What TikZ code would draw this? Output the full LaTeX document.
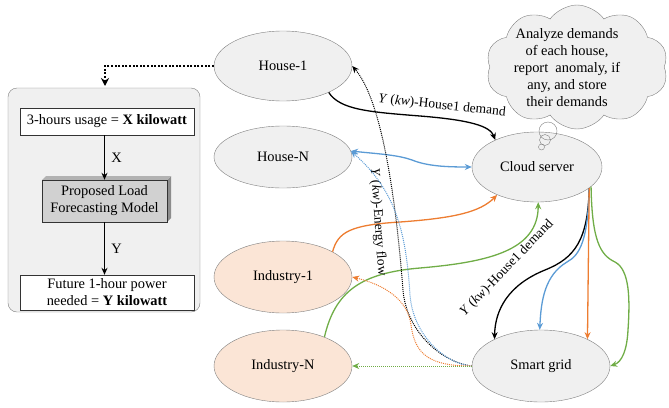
\documentclass[tikz,border=0pt]{standalone}
\usepackage{fontspec}
\setmainfont{Liberation Serif}
\usetikzlibrary{arrows.meta,shapes.geometric,shapes.symbols}
\definecolor{cblue}{HTML}{5B9BD5}
\definecolor{corange}{HTML}{ED7D31}
\definecolor{cgreen}{HTML}{70AD47}
\definecolor{ellfill}{HTML}{F0F0F0}
\definecolor{indfill}{HTML}{FBE5D6}
\definecolor{edge}{HTML}{7F7F7F}
\begin{document}
\begin{tikzpicture}[x=1pt,y=-1pt,font=\fontsize{14.4}{17}\selectfont,
  ell/.style={ellipse,draw=edge,fill=ellfill,inner sep=0pt,minimum width=138pt,minimum height=72pt},
  ind/.style={ell,fill=indfill},
  pbox/.style={draw=black!80,fill=white,inner sep=0pt,minimum width=174pt,align=center},
  tip/.style={-{Stealth[length=7pt,width=6pt]}},
  btip/.style={{Stealth[length=7pt,width=6pt]}-{Stealth[length=7pt,width=6pt]}},
  conn/.style={line width=1.3pt,tip},
  dconn/.style={line width=1pt,dash pattern=on 1pt off 1pt,tip},
  lab/.style={font=\fontsize{13.5}{16}\selectfont,inner sep=1pt}]
\useasboundingbox (0,0) rectangle (669,407);

% left panel
\node[draw=edge,fill=ellfill,rounded corners=9pt,minimum width=192pt,minimum height=224pt] (panel) at (104,200) {};
\node[pbox,minimum height=27pt] (b1) at (107,121.5) {3-hours usage = \textbf{X kilowatt}};
\fill[black!45] (167,180) -- (171,176) -- (171,218) -- (167,222) -- cycle;
\fill[black!30] (42,180) -- (46,176) -- (171,176) -- (167,180) -- cycle;
\node[draw=black!80,fill=black!18,minimum width=125pt,minimum height=42pt,inner sep=0pt,align=center] (pm) at (104.5,201) {Proposed Load\\Forecasting Model};
\node[pbox,minimum height=35pt] (b3) at (107,292.5) {Future 1-hour power\\needed = \textbf{Y kilowatt}};
\draw[conn] (b1.south -| pm.north) -- node[right=3pt] {X} (pm.north);
\draw[conn] (pm.south) -- node[right=3pt] {Y} (b3.north -| pm.south);

% ellipses
\node[ell,minimum height=70pt] (h1) at (283,66) {House-1};
\node[ell,minimum height=62pt] (hN) at (283,157) {House-N};
\node[ind] (i1) at (283,277) {Industry-1};
\node[ind] (iN) at (283,366) {Industry-N};
\node[ell,minimum width=130pt,minimum height=70pt] (cs) at (537,167) {Cloud server};
\node[ell] (sg) at (541,366) {Smart grid};

% thought cloud
\node[cloud,draw=edge,fill=ellfill,cloud puffs=10,cloud puff arc=110,cloud ignores aspect,minimum width=182pt,minimum height=124pt,inner sep=0pt] (th) at (577,67) {};
\node[align=center,inner sep=0pt] (tht) at (567,67.5) {Analyze demands\\of each house,\\report\ \ anomaly, if\\any, and store\\their demands};
\draw[edge] (548,131) circle (9);
\draw[edge] (545,140) circle (5.5);
\draw[edge] (541.5,147) circle (3);

% dotted arrow to panel
\coordinate (pt) at (105,86);
\draw[line width=2pt,dash pattern=on 2pt off 1.6pt,-{Stealth[length=8pt,width=8pt]}] (h1.west) -| (pt);

% house-1 to cloud
\draw[conn] (h1.-30) .. controls (340,110) and (370,112) .. (420,116) .. controls (470,120) and (490,126) .. (cs.147);
\node[lab,rotate=-6] (l1) at (442,106) {\textit{Y} (\textit{kw})-House1 demand};
% house-N <-> cloud
\draw[line width=1.3pt,cblue,btip] (hN.5) .. controls (380,154) and (398,155) .. (412,160) .. controls (427,166) and (445,167) .. (cs.west);
% industry to cloud
\draw[conn,corange] (i1.27) .. controls (338,232) and (350,225) .. (400,222) .. controls (455,218) and (480,212) .. (cs.215);
\draw[conn,cgreen] (iN.35) .. controls (335,292) and (360,273) .. (420,268) .. controls (490,262) and (538,250) .. (cs.-88);

% cloud to smart grid
\draw[conn] (cs.-22) .. controls (588,240) and (575,258) .. (545,270) .. controls (508,285) and (495,310) .. (sg.150);
\node[lab,rotate=46] (l2) at (507,268) {\textit{Y} (\textit{kw})-House1 demand};
\draw[conn,cblue] (cs.-22) .. controls (588,240) and (580,255) .. (567,262) .. controls (545,275) and (541,300) .. (sg.92);
\draw[conn,corange] (cs.-22) -- (sg.30);
\draw[conn,cgreen] (cs.-20) .. controls (592,240) and (600,255) .. (615,262) .. controls (630,270) and (630,300) .. (628,330) .. controls (627,350) and (622,362) .. (sg.east);

% smart grid back to consumers (dotted)
\draw[dconn] (sg.west) .. controls (440,362) and (406,330) .. (403,290) .. controls (396,200) and (382,100) .. (h1.east);
\node[lab,rotate=-86] (l3) at (378,222) {\textit{Y} (\textit{kw})-Energy flow};
\draw[dconn,cblue] (sg.west) .. controls (445,364) and (413,335) .. (410,295) .. controls (406,230) and (395,190) .. (hN.5);
\draw[dconn,corange] (sg.west) .. controls (430,366) and (415,355) .. (411,325) .. controls (408,300) and (385,285) .. (i1.east);
\draw[dconn,cgreen] (sg.west) -- (iN.east);
\end{tikzpicture}
\end{document}
